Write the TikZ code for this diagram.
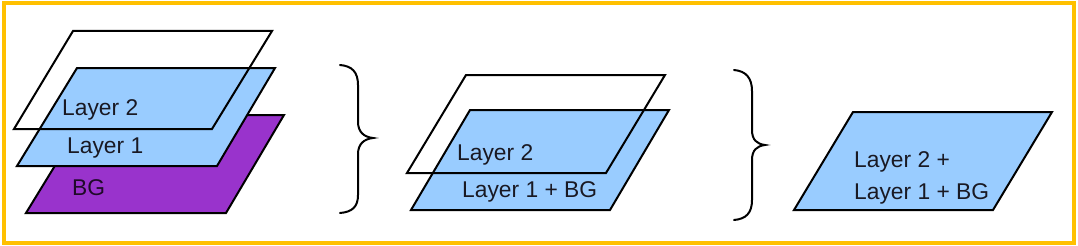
\documentclass[tikz,border=0pt]{standalone}
\usepackage{fontspec}
\setmainfont{Liberation Sans}
\definecolor{frameorange}{RGB}{255,192,0}
\definecolor{layerblue}{RGB}{153,204,255}
\definecolor{bgpurple}{RGB}{153,51,204}
\definecolor{txtdark}{RGB}{25,25,35}
\begin{document}
\begin{tikzpicture}[x=1pt,y=-1pt,
  plate/.style={draw=black,line width=2pt,line join=miter},
  lbl/.style={anchor=base west,inner sep=0pt,font=\fontsize{22.8}{24}\selectfont,text=txtdark},
  brace/.style={draw=black,line width=2pt,line cap=round}]
\useasboundingbox (0,0) rectangle (1078,246);
\draw[frameorange,line width=4pt] (3.5,3.5) rectangle (1074,242.5);
% left group
\draw[plate,fill=bgpurple] (86,115) -- (284,115) -- (226,213) -- (26,213) -- cycle;
\draw[plate,fill=layerblue] (77,68) -- (275,68) -- (217,166) -- (17,166) -- cycle;
\draw[plate] (73,31) -- (272,31) -- (212,129) -- (14,129) -- cycle;
\node[lbl] (l2a) at (62,115) {Layer 2};
\node[lbl] (l1a) at (67,153) {Layer 1};
\node[lbl,text=black!80!bgpurple] (bga) at (72,195) {BG};
% brace 1
\draw[brace] (340,65) .. controls (352,66) and (358,72) .. (358,85)
  -- (358,122) .. controls (358,132) and (364,137) .. (373,138)
  .. controls (364,139) and (358,144) .. (358,154)
  -- (358,195) .. controls (358,207) and (352,212) .. (340,213);
% middle group
\draw[plate,fill=layerblue] (470,110) -- (669,110) -- (610,210) -- (411,210) -- cycle;
\draw[plate] (466,75) -- (665,75) -- (606,173) -- (407,173) -- cycle;
\node[lbl] (l2b) at (457,160) {Layer 2};
\node[lbl] (l1b) at (462,197) {Layer 1 + BG};
% brace 2
\draw[brace] (734,70) .. controls (746,71) and (752,78) .. (752,91)
  -- (752,130) .. controls (752,140) and (757,144) .. (765,145)
  .. controls (757,146) and (752,150) .. (752,160)
  -- (752,200) .. controls (752,213) and (746,219) .. (734,220);
% right group
\draw[plate,fill=layerblue] (853,112) -- (1052,112) -- (993,210) -- (794,210) -- cycle;
\node[lbl] (l2c) at (854,167) {Layer 2 +};
\node[lbl] (l1c) at (854,199) {Layer 1 + BG};
\end{tikzpicture}
\end{document}
